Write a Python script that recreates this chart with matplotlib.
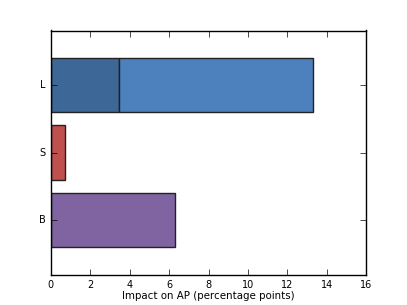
import matplotlib
matplotlib.use("Agg")
import matplotlib.pyplot as plt

plt.style.use("classic")

categories = ["B", "S", "L"]
base_values = [6.3, 0.72, 3.45]
extra_values = [0.0, 0.0, 9.85]
base_colors = ["#8064a2", "#c0504d", "#3c6796"]
extra_color = "#4d81bd"

fig = plt.figure(figsize=(4.07, 3.05), dpi=100)
ax = fig.add_axes([0.125, 0.1, 0.775, 0.8])
pos = list(range(len(categories)))
ax.barh(pos, base_values, height=0.8, color=base_colors, edgecolor="#222222", linewidth=1.0)
ax.barh([pos[2]], [extra_values[2]], left=[base_values[2]], height=0.8,
        color=extra_color, edgecolor="#222222", linewidth=1.0)
ax.set_ylim(-0.8, 2.8)
ax.set_xlim(0, 16)
ax.set_yticks(pos)
ax.set_yticklabels(categories)
ax.set_xticks(range(0, 17, 2))
ax.tick_params(labelsize=7)
ax.set_xlabel("Impact on AP (percentage points)", fontsize=7.4, labelpad=1)
fig.savefig("out.png", dpi=100)
